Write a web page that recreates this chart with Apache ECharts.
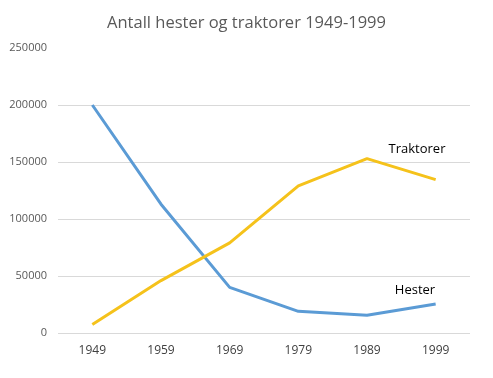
<!DOCTYPE html>
<html>
<head>
<meta charset="utf-8">
<script src="https://cdn.jsdelivr.net/npm/echarts@6/dist/echarts.min.js"></script>
<style>
html,body{margin:0;padding:0;background:#fff;}
#chart{width:493px;height:378px;}
</style>
</head>
<body>
<div id="chart"></div>
<script>
//数据
var years = ["1949", "1959", "1969", "1979", "1989", "1999"];
var hester = [200000, 113000, 40000, 19000, 15500, 25500];
var traktorer = [7500, 46000, 79000, 129000, 153000, 134500];
var yTicks = [0, 50000, 100000, 150000, 200000, 250000];

var blue = "#5b9bd5";
var gold = "#f5c21b";
var font = "'Open Sans', sans-serif";

// 在第5个点(1989)上挂系列名称标签
function withLabel(vals, name, offset) {
    return vals.map(function (v, i) {
        if (i !== 4) return v;
        return {
            value: v,
            label: {
                show: true,
                formatter: name,
                position: "inside",
                offset: offset,
                color: "#000",
                fontSize: 13,
                fontFamily: font
            }
        };
    });
}

var myChart = echarts.init(document.getElementById("chart"));
var option = {
    animation: false,
    title: {
        text: "Antall hester og traktorer 1949-1999",
        left: "center",
        top: 10,
        textStyle: {color: "#595959", fontSize: 16.5, fontWeight: "normal", fontFamily: font}
    },
    grid: {left: 58, right: 23, top: 48, bottom: 45},
    xAxis: {
        type: "category",
        data: years,
        axisLine: {show: false},
        axisTick: {show: false},
        axisLabel: {color: "#404040", fontSize: 12, fontFamily: font, margin: 12}
    },
    yAxis: {
        type: "value",
        min: yTicks[0],
        max: yTicks[yTicks.length - 1],
        interval: 50000,
        axisLine: {show: false},
        axisTick: {show: false},
        axisLabel: {color: "#595959", fontSize: 11, fontFamily: font, margin: 11, formatter: function (v) { return String(v); }},
        splitLine: {lineStyle: {color: ["#d9d9d9", "#d9d9d9", "#d9d9d9", "#d9d9d9", "#d9d9d9", "rgba(0,0,0,0)"]}}
    },
    series: [
        {
            name: "Hester",
            type: "line",
            data: withLabel(hester, "Hester", [48, -25]),
            symbol: "circle",
            symbolSize: 0,
            lineStyle: {color: blue, width: 3},
            itemStyle: {color: blue}
        },
        {
            name: "Traktorer",
            type: "line",
            data: withLabel(traktorer, "Traktorer", [50, -9]),
            symbol: "circle",
            symbolSize: 0,
            lineStyle: {color: gold, width: 3},
            itemStyle: {color: gold}
        }
    ]
};
myChart.setOption(option);
</script>
</body>
</html>
